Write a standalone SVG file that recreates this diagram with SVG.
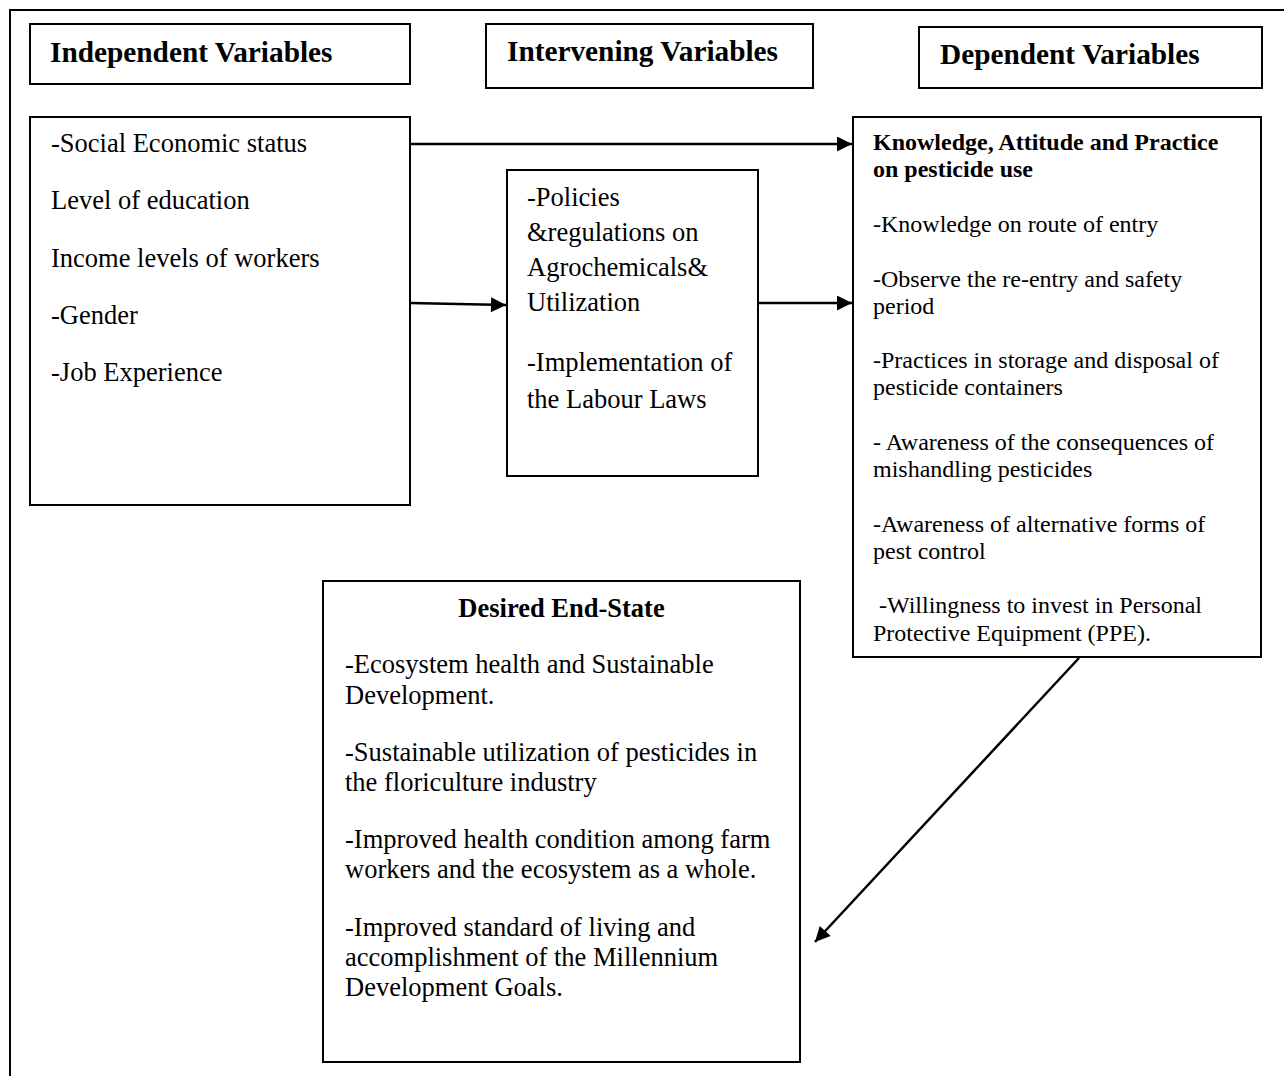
<svg xmlns="http://www.w3.org/2000/svg" width="1284" height="1076" viewBox="0 0 1284 1076">
<style>
.box{fill:#fff;stroke:#000;stroke-width:2}
.frame{fill:none;stroke:#000;stroke-width:2}
.hd{font-family:"Liberation Serif","Times New Roman",serif;font-weight:bold;font-size:29.3px;fill:#000}
.t{font-family:"Liberation Serif","Times New Roman",serif;font-size:26.5px;fill:#000}
.s{font-family:"Liberation Serif","Times New Roman",serif;font-size:24px;fill:#000}
.sb{font-family:"Liberation Serif","Times New Roman",serif;font-size:24px;font-weight:bold;fill:#000}
.tb{font-family:"Liberation Serif","Times New Roman",serif;font-size:26.5px;font-weight:bold;fill:#000}
.c{fill:none;stroke:#000;stroke-width:2.5}
</style>
<defs>
<marker id="ah" viewBox="0 0 10 10" refX="10" refY="5" markerWidth="7" markerHeight="6" markerUnits="strokeWidth" orient="auto">
<path d="M0,0 L10,5 L0,10 z" fill="#000"/>
</marker>
</defs>
<rect width="1284" height="1076" fill="#fff"/>
<path class="frame" d="M10,1076 L10,10 L1284,10"/>

<g id="hdr-independent">
<rect class="box" x="30" y="24" width="380" height="60"/>
<text class="hd" x="50" y="62">Independent Variables</text>
</g>
<g id="hdr-intervening">
<rect class="box" x="486" y="24" width="327" height="64"/>
<text class="hd" x="507" y="61">Intervening Variables</text>
</g>
<g id="hdr-dependent">
<rect class="box" x="919" y="27" width="343" height="61"/>
<text class="hd" x="940" y="64">Dependent Variables</text>
</g>

<g id="independent">
<rect class="box" x="30" y="117" width="380" height="388"/>
<text class="t" x="51" y="152">-Social Economic status</text>
<text class="t" x="51" y="209">Level of education</text>
<text class="t" x="51" y="267">Income levels of workers</text>
<text class="t" x="51" y="324">-Gender</text>
<text class="t" x="51" y="381">-Job Experience</text>
</g>

<g id="intervening">
<rect class="box" x="507" y="170" width="251" height="306"/>
<text class="t" x="527" y="206">-Policies</text>
<text class="t" x="527" y="241">&amp;regulations on</text>
<text class="t" x="527" y="276">Agrochemicals&amp;</text>
<text class="t" x="527" y="311">Utilization</text>
<text class="t" x="527" y="371">-Implementation of</text>
<text class="t" x="527" y="408">the Labour Laws</text>
</g>

<g id="dependent">
<rect class="box" x="853" y="117" width="408" height="540"/>
<text class="sb" x="873" y="150">Knowledge, Attitude and Practice</text>
<text class="sb" x="873" y="177">on pesticide use</text>
<text class="s" x="873" y="232">-Knowledge on route of entry</text>
<text class="s" x="873" y="287">-Observe the re-entry and safety</text>
<text class="s" x="873" y="314">period</text>
<text class="s" x="873" y="368">-Practices in storage and disposal of</text>
<text class="s" x="873" y="395">pesticide containers</text>
<text class="s" x="873" y="450">- Awareness of the consequences of</text>
<text class="s" x="873" y="477">mishandling pesticides</text>
<text class="s" x="873" y="532">-Awareness of alternative forms of</text>
<text class="s" x="873" y="559">pest control</text>
<text class="s" x="879" y="613">-Willingness to invest in Personal</text>
<text class="s" x="873" y="641">Protective Equipment (PPE).</text>
</g>

<g id="end-state">
<rect class="box" x="323" y="581" width="477" height="481"/>
<text class="tb" x="561.5" y="617" text-anchor="middle">Desired End-State</text>
<text class="t" x="345" y="673">-Ecosystem health and Sustainable</text>
<text class="t" x="345" y="704">Development.</text>
<text class="t" x="345" y="761">-Sustainable utilization of pesticides in</text>
<text class="t" x="345" y="791">the floriculture industry</text>
<text class="t" x="345" y="848">-Improved health condition among farm</text>
<text class="t" x="345" y="878">workers and the ecosystem as a whole.</text>
<text class="t" x="345" y="936">-Improved standard of living and</text>
<text class="t" x="345" y="966">accomplishment of the Millennium</text>
<text class="t" x="345" y="996">Development Goals.</text>
</g>

<g id="connectors">
<path class="c" d="M410,144 L852,144" marker-end="url(#ah)"/>
<path class="c" d="M410,303 L506,305" marker-end="url(#ah)"/>
<path class="c" d="M758,303 L852,303" marker-end="url(#ah)"/>
<path class="c" d="M1079,658 L815,942" marker-end="url(#ah)"/>
</g>
</svg>
